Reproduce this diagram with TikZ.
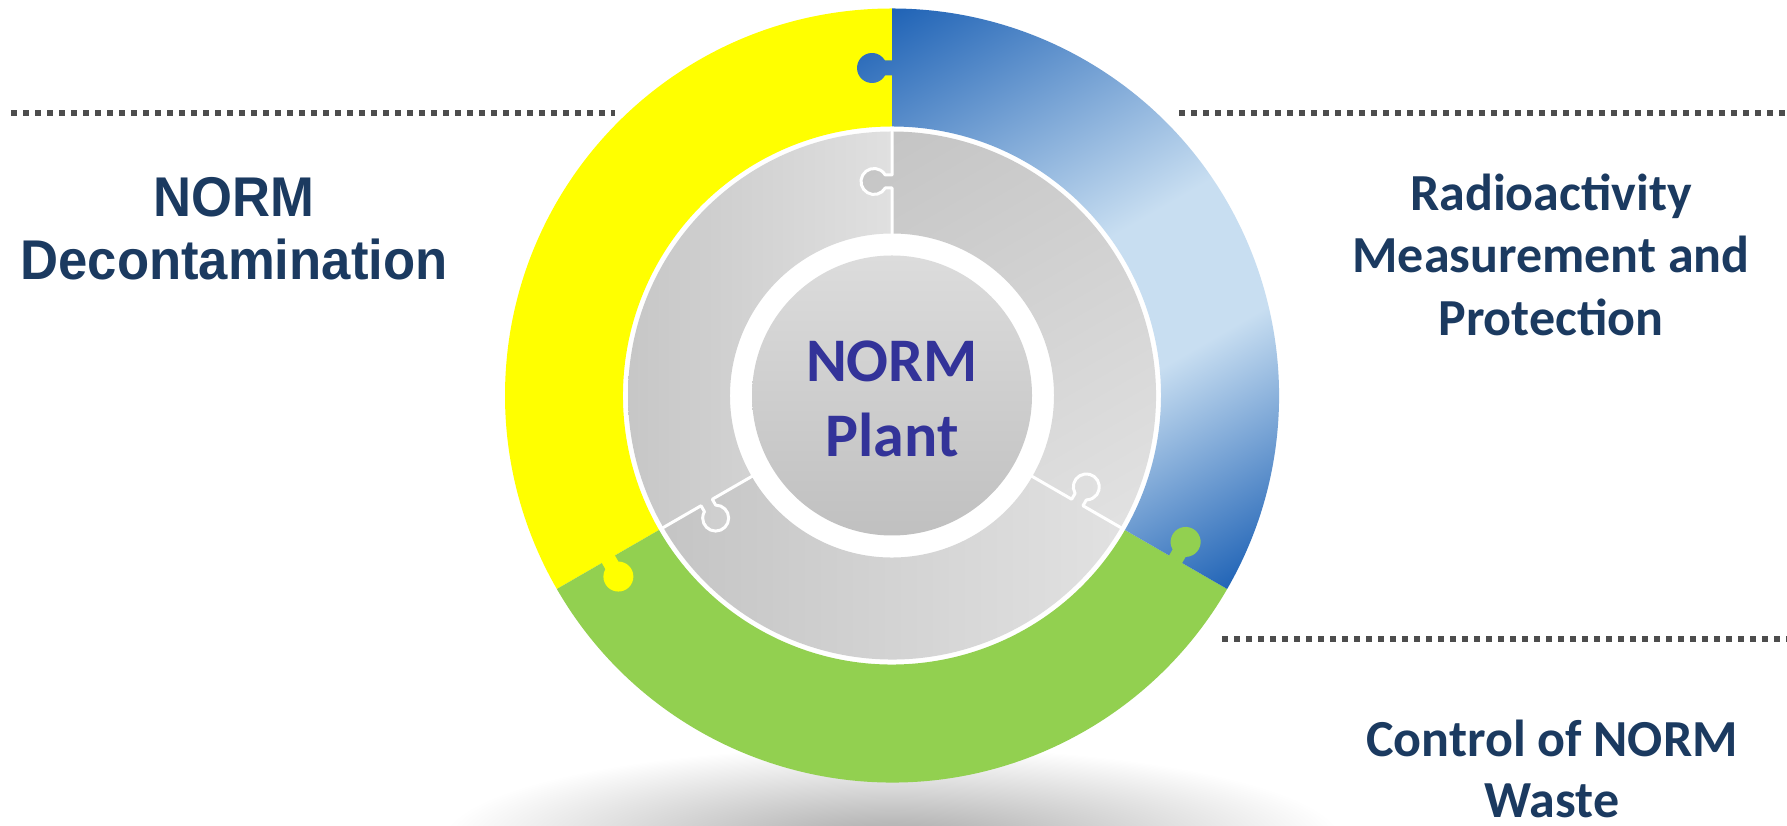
\documentclass[tikz,border=0pt]{standalone}
\usepackage{fontspec}
\newfontfamily\leftfont{Liberation Sans}[FakeStretch=0.94]
\newfontfamily\carl{Carlito}
\definecolor{navy}{HTML}{1B3A60}
\definecolor{plantc}{HTML}{333399}
\definecolor{yellowc}{HTML}{FFFF00}
\definecolor{greenc}{HTML}{92D050}
\definecolor{bdark}{HTML}{1A5FB4}
\definecolor{blight}{HTML}{C8DEF1}
\definecolor{dotc}{HTML}{4D4D4D}
\definecolor{shadowc}{HTML}{A8A8A8}
\definecolor{gA}{HTML}{C4C4C4}
\definecolor{gB}{HTML}{D3D3D3}
\definecolor{gC}{HTML}{E2E2E2}
\definecolor{gL1}{HTML}{C6C6C6}
\definecolor{gL2}{HTML}{E0E0E0}
\definecolor{diskT}{HTML}{DCDCDC}
\definecolor{diskB}{HTML}{C0C0C0}
\pgfdeclarehorizontalshading{bluesh}{100bp}{color(0bp)=(bdark); color(25bp)=(bdark); color(48bp)=(blight); color(58bp)=(blight); color(75bp)=(bdark); color(100bp)=(bdark)}
% gradient rectangle rotated about the ring centre: angle, half width, left, middle, right
\newcommand\gradrect[5]{%
  \begin{scope}[transform canvas={shift={(892,430.5)},rotate=#1}]
    \shade[left color=#3,right color=#5,middle color=#4] (-#2,-420) rectangle (#2,420);
  \end{scope}}
\newcommand\bluegrad{%
  \begin{scope}[transform canvas={shift={(892,430.5)},rotate=-60}]
    \shade[shading=bluesh] (-345,-420) rectangle (345,420);
  \end{scope}}
\tikzset{
  dotline/.style={dotc, line width=6pt, dash pattern=on 6pt off 6pt},
  lefttext/.style={anchor=base, inner sep=0pt, text=navy, font=\leftfont\bfseries\fontsize{56}{64}\selectfont},
  righttext/.style={anchor=base, inner sep=0pt, text=navy, font=\carl\bfseries\fontsize{52}{62}\selectfont},
  planttext/.style={anchor=base, inner sep=0pt, text=plantc, font=\carl\bfseries\fontsize{62}{75}\selectfont},
  ctr/.style={shift={(892,430.5)}},
  whiteline/.style={white, line width=3pt, line join=round}
}
\begin{document}
\begin{tikzpicture}[x=1pt,y=1pt]
\useasboundingbox (0,0) rectangle (1787,826);
\fill[white] (0,0) rectangle (1787,826);
\coordinate (C) at (892,430.5);
% shadow
\begin{scope}
  \clip (0,0) rectangle (1787,826);
  \shade[inner color=shadowc, outer color=white] (892,-15) ellipse[x radius=450, y radius=95];
\end{scope}
% ---- coloured ring ----
\fill[yellowc, ctr] (90:387) arc[start angle=90,end angle=210,radius=387] -- (210:269) arc[start angle=210,end angle=90,radius=269] -- cycle;
\fill[greenc, ctr] (210:387) arc[start angle=210,end angle=330,radius=387] -- (330:269) arc[start angle=330,end angle=210,radius=269] -- cycle;
\begin{scope}
  \clip[ctr] (-30:387) arc[start angle=-30,end angle=90,radius=387] -- (90:269) arc[start angle=90,end angle=-30,radius=269] -- cycle;
  \bluegrad
\end{scope}
% coloured knobs
\begin{scope}
  \clip[ctr, shift={(90:327.5)}, rotate=90] (-7.5,-1) -- (-7.5,7) arc[start angle=240,end angle=-60,radius=15] -- (7.5,-1) -- cycle;
  \bluegrad
\end{scope}
\fill[greenc, ctr, shift={(-30:327.5)}, rotate=-30] (-7.5,-1) -- (-7.5,7) arc[start angle=240,end angle=-60,radius=15] -- (7.5,-1) -- cycle;
\fill[yellowc, ctr, shift={(210:327.5)}, rotate=210] (-7.5,-1) -- (-7.5,7) arc[start angle=240,end angle=-60,radius=15] -- (7.5,-1) -- cycle;
% ---- grey ring ----
\begin{scope}
  \clip[ctr] (-30:264) arc[start angle=-30,end angle=90,radius=264] -- (90:162) arc[start angle=90,end angle=-30,radius=162] -- cycle;
  \gradrect{-60}{240}{gA}{gB}{gC}
\end{scope}
\begin{scope}
  \clip[ctr] (210:264) arc[start angle=210,end angle=330,radius=264] -- (330:162) arc[start angle=330,end angle=210,radius=162] -- cycle;
  \gradrect{0}{240}{gA}{gB}{gC}
\end{scope}
\begin{scope}
  \clip[ctr] (90:264) arc[start angle=90,end angle=210,radius=264] -- (210:162) arc[start angle=210,end angle=90,radius=162] -- cycle;
  \gradrect{0}{270}{gL1}{gL2}{gL2}
\end{scope}
% grey knobs
\begin{scope}
  \clip[ctr, shift={(90:214)}, rotate=90] (-6.5,-1) -- (-6.5,6.74) arc[start angle=240,end angle=-60,radius=13] -- (6.5,-1) -- cycle;
  \gradrect{-60}{240}{gA}{gB}{gC}
\end{scope}
\begin{scope}
  \clip[ctr, shift={(-30:214)}, rotate=-30] (-6.5,-1) -- (-6.5,6.74) arc[start angle=240,end angle=-60,radius=13] -- (6.5,-1) -- cycle;
  \gradrect{0}{240}{gA}{gB}{gC}
\end{scope}
\begin{scope}
  \clip[ctr, shift={(210:214)}, rotate=210] (-6.5,-1) -- (-6.5,6.74) arc[start angle=240,end angle=-60,radius=13] -- (6.5,-1) -- cycle;
  \gradrect{0}{270}{gL1}{gL2}{gL2}
\end{scope}
% white seams in grey ring
\foreach \a in {90,-30,210}{
  \draw[whiteline, ctr, shift={(\a:214)}, rotate=\a] (-56,0) -- (-6.5,0) -- (-6.5,6.74) arc[start angle=240,end angle=-60,radius=13] -- (6.5,0) -- (52,0);
}
% inner disk
\shade[top color=diskT, bottom color=diskB] (C) circle[radius=140];
% ---- texts ----
\node[planttext] (p1) at (892,444.3) {NORM};
\node[planttext] (p2) at (892,369.3) {Plant};
\node[lefttext] (l1) at (234,609.5) {NORM};
\node[lefttext] (l2) at (234,546) {Decontamination};
\node[righttext] (r1) at (1551,615) {Radioactivity};
\node[righttext] (r2) at (1551,553) {Measurement and};
\node[righttext] (r3) at (1551,490) {Protection};
\node[righttext] (w1) at (1552,69) {Control of NORM};
\node[righttext] (w2) at (1552,8) {Waste};
% ---- dotted rules ----
\coordinate (d1a) at (11,713);
\coordinate (d1b) at (615,713);
\coordinate (d2a) at (1179,713);
\coordinate (d2b) at (1787,713);
\coordinate (d3a) at (1222,187);
\coordinate (d3b) at (1787,187);
\draw[dotline] (d1a) -- (d1b);
\draw[dotline] (d2a) -- (d2b);
\draw[dotline] (d3a) -- (d3b);
\end{tikzpicture}
\end{document}
